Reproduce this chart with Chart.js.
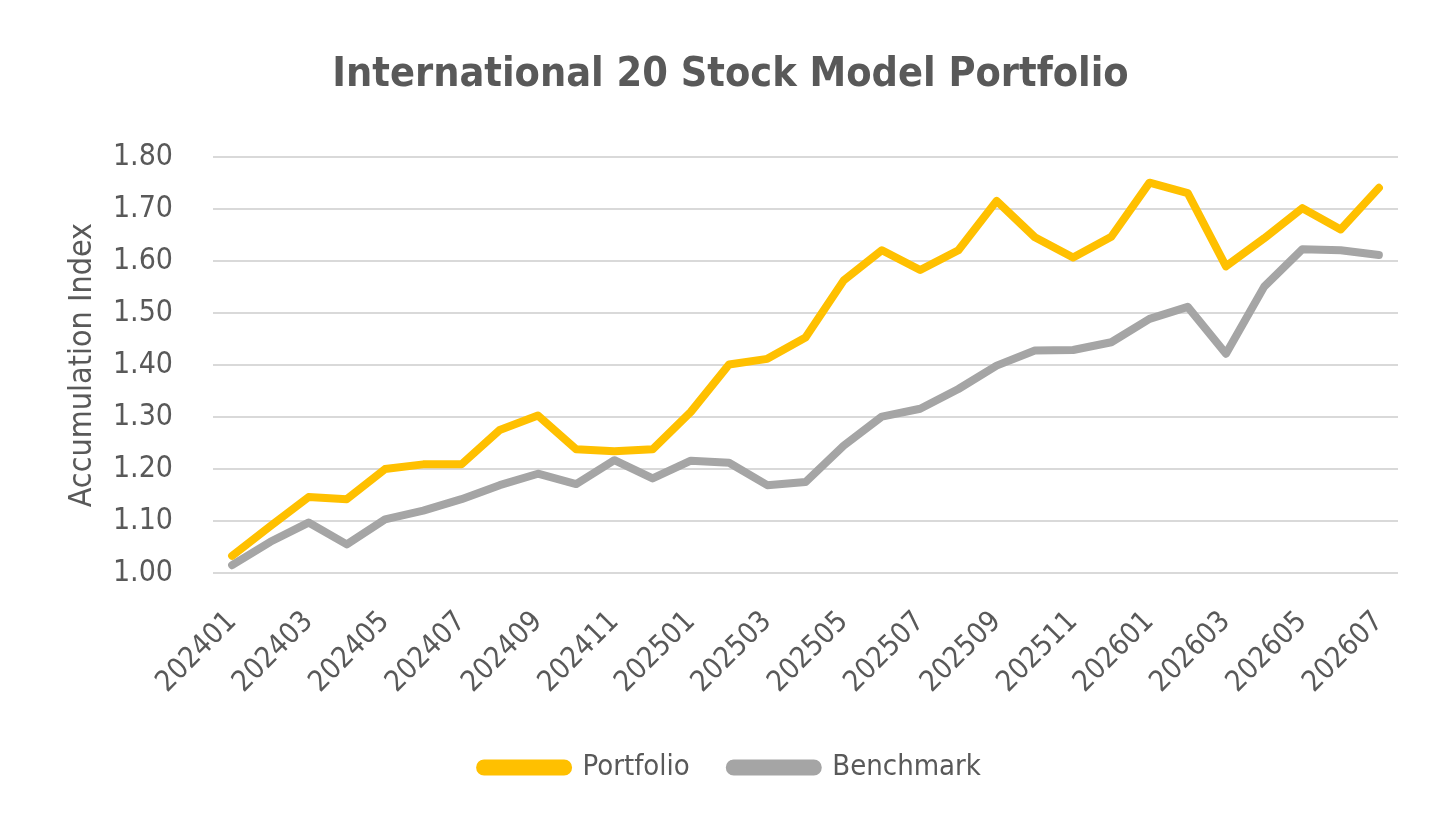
<!DOCTYPE html>
<html>
<head>
<meta charset="utf-8">
<script src="https://cdn.jsdelivr.net/npm/chart.js@4"></script>
<style>
  html, body { margin: 0; padding: 0; background: #fff; }
  #wrap { width: 1456px; height: 827px; }
</style>
</head>
<body>
<div id="wrap"><canvas id="line-chart"></canvas></div>
<script>
const months = [
    '202401', '202402', '202403', '202404', '202405', '202406', '202407', '202408',
    '202409', '202410', '202411', '202412', '202501', '202502', '202503', '202504',
    '202505', '202506', '202507', '202508', '202509', '202510', '202511', '202512',
    '202601', '202602', '202603', '202604', '202605', '202606', '202607'
]
const portfolio = [
    1.033, 1.090, 1.146, 1.142, 1.200, 1.209, 1.209, 1.275,
    1.303, 1.238, 1.234, 1.238, 1.310, 1.401, 1.412, 1.453,
    1.563, 1.621, 1.583, 1.621, 1.716, 1.646, 1.607, 1.647,
    1.751, 1.731, 1.590, 1.644, 1.702, 1.661, 1.741
]
const benchmark = [
    1.015, 1.060, 1.097, 1.055, 1.103, 1.120, 1.142, 1.169,
    1.191, 1.171, 1.217, 1.182, 1.216, 1.212, 1.169, 1.175,
    1.245, 1.301, 1.316, 1.354, 1.399, 1.428, 1.429, 1.444,
    1.489, 1.512, 1.422, 1.551, 1.623, 1.621, 1.612
]
const yTicks = [1.0, 1.8, 0.1] // min, max, step

const fontFamily = '"DejaVu Sans Condensed", "DejaVu Sans", sans-serif'
const textColor = '#595959'

const ctx = document.getElementById('line-chart').getContext('2d')

const config = {
    type: 'line',
    data: {
        labels: months,
        datasets: [
            {
                label: 'Portfolio',
                data: portfolio,
                borderColor: '#FFC000',
                backgroundColor: '#FFC000',
                borderWidth: 8,
                pointRadius: 0,
                borderJoinStyle: 'round',
                borderCapStyle: 'round',
                tension: 0
            },
            {
                label: 'Benchmark',
                data: benchmark,
                borderColor: '#A5A5A5',
                backgroundColor: '#A5A5A5',
                borderWidth: 8,
                pointRadius: 0,
                borderJoinStyle: 'round',
                borderCapStyle: 'round',
                tension: 0
            }
        ]
    },
    options: {
        responsive: true,
        maintainAspectRatio: false,
        animation: false,
        layout: {
            padding: { left: 63, right: 58, top: 0, bottom: 35 }
        },
        scales: {
            x: {
                offset: true,
                grid: { display: false },
                border: { display: false },
                ticks: {
                    autoSkip: false,
                    minRotation: 45,
                    maxRotation: 45,
                    padding: 24,
                    color: textColor,
                    font: { family: fontFamily, size: 29 },
                    callback: function (value, index) {
                        return index % 2 === 0 ? this.getLabelForValue(value) : ''
                    }
                },
                // the rotated labels need less room than Chart.js reserves
                afterFit: scale => { scale.height -= 11 }
            },
            y: {
                min: yTicks[0],
                max: yTicks[1],
                border: { display: false },
                grid: {
                    color: '#D9D9D9',
                    lineWidth: 2,
                    drawTicks: false
                },
                ticks: {
                    stepSize: yTicks[2],
                    padding: 40,
                    color: textColor,
                    font: { family: fontFamily, size: 30 },
                    callback: value => value.toFixed(2)
                },
                title: {
                    display: true,
                    text: 'Accumulation Index',
                    color: textColor,
                    font: { family: fontFamily, size: 32 },
                    padding: 0
                },
                afterFit: scale => { scale.width = 150 }
            }
        },
        plugins: {
            title: {
                display: true,
                text: 'International 20 Stock Model Portfolio',
                color: textColor,
                font: { family: fontFamily, size: 41, weight: 'bold' },
                padding: { top: 51, bottom: 57 }
            },
            legend: {
                position: 'bottom',
                labels: {
                    boxWidth: 88,
                    boxHeight: 8,
                    useBorderRadius: true,
                    borderRadius: 4,
                    padding: 40,
                    color: textColor,
                    font: { family: fontFamily, size: 29 }
                }
            },
            tooltip: { enabled: false }
        }
    }
}

new Chart(ctx, config)
</script>
</body>
</html>
